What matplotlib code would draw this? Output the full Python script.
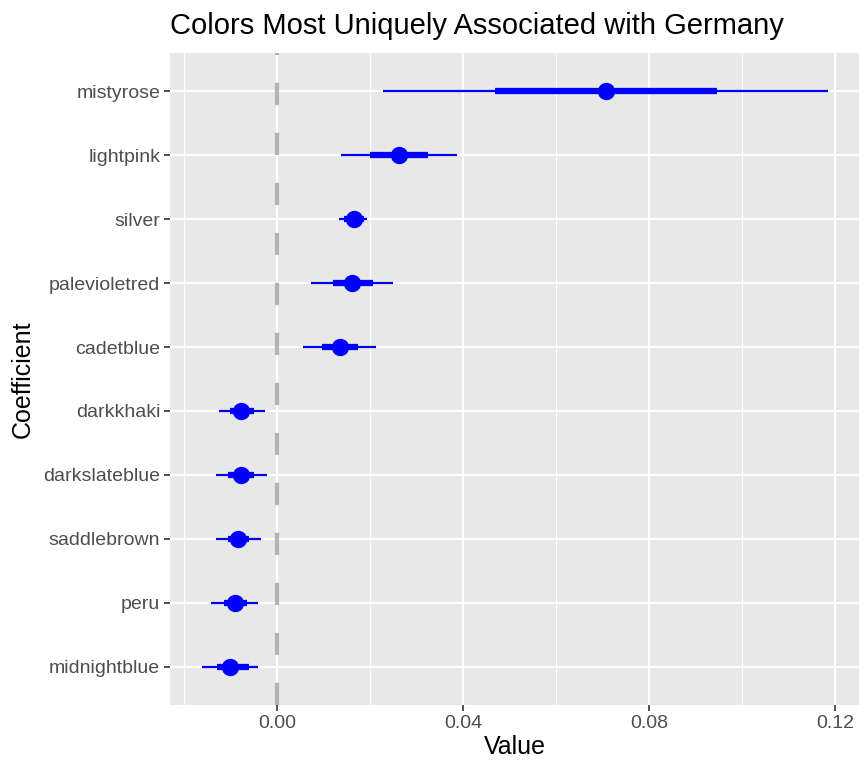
import matplotlib
matplotlib.use("Agg")
import matplotlib.pyplot as plt
from matplotlib.ticker import MultipleLocator

plt.rcParams['font.family'] = ['Liberation Sans', 'DejaVu Sans']
plt.rcParams['lines.scale_dashes'] = False

# coefficients, top to bottom
coefs = ['mistyrose', 'lightpink', 'silver', 'palevioletred', 'cadetblue',
         'darkkhaki', 'darkslateblue', 'saddlebrown', 'peru', 'midnightblue']
value = [0.0707, 0.0261, 0.0164, 0.0160, 0.0135,
         -0.0078, -0.0079, -0.0084, -0.0092, -0.0102]
low_outer = [0.0227, 0.0137, 0.0133, 0.0073, 0.0056,
             -0.0126, -0.0133, -0.0133, -0.0142, -0.0162]
high_outer = [0.1186, 0.0386, 0.0194, 0.0248, 0.0213,
              -0.0027, -0.0023, -0.0036, -0.0041, -0.0042]
low_inner = [0.0469, 0.0200, 0.0143, 0.0119, 0.0097,
             -0.0101, -0.0107, -0.0106, -0.0115, -0.0129]
high_inner = [0.0947, 0.0324, 0.0186, 0.0205, 0.0174,
              -0.0050, -0.0050, -0.0061, -0.0066, -0.0061]
xticks = [0.00, 0.04, 0.08, 0.12]

fig = plt.figure(figsize=(8.59, 7.66), dpi=100)
ax = fig.add_axes([170/859, 61/766, 689/859, 652/766])
ax.set_facecolor('#E8E8E8')

n = len(coefs)
ypos = list(range(n - 1, -1, -1))

ax.axvline(0, color='#B3B3B3', lw=3, dashes=(16, 20), zorder=2)
ax.hlines(ypos, low_outer, high_outer, color='blue', lw=1.6, zorder=3)
ax.hlines(ypos, low_inner, high_inner, color='blue', lw=4.5, zorder=3)
ax.plot(value, ypos, 'o', color='blue', ms=11.5, zorder=4)

ax.set_xlim(-0.0231, 0.1252)
ax.set_ylim(-0.6, n - 1 + 0.6)
ax.set_yticks(ypos)
ax.set_yticklabels(coefs)
ax.set_xticks(xticks)
ax.set_xticklabels(['%.2f' % t for t in xticks])
ax.xaxis.set_minor_locator(MultipleLocator(0.02))

ax.grid(which='major', color='white', lw=1.6, zorder=0)
ax.grid(which='minor', axis='x', color='white', lw=0.8, zorder=0)
ax.set_axisbelow(True)
for s in ax.spines.values():
    s.set_visible(False)
ax.tick_params(which='major', length=4, width=1.2, color='#333333',
               labelcolor='#4D4D4D', labelsize=14, pad=3)
ax.tick_params(which='minor', length=0)

ax.set_xlabel('Value', fontsize=18, labelpad=2)
ax.set_ylabel('Coefficient', fontsize=18, labelpad=6)
ax.set_title('Colors Most Uniquely Associated with Germany', fontsize=21,
             loc='left', pad=14)

fig.savefig('out.png', dpi=100)
